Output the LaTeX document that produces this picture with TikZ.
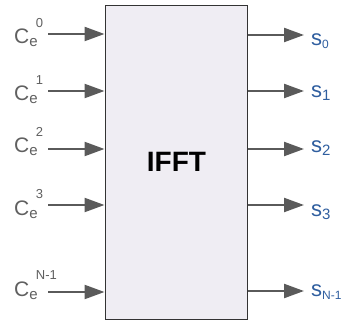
\documentclass[tikz,border=0pt]{standalone}
\usepackage{fontspec}
\setmainfont{Liberation Sans}
\usetikzlibrary{arrows.meta}
\definecolor{arrgray}{HTML}{5A5A5A}
\definecolor{txtgray}{HTML}{606060}
\definecolor{sblue}{HTML}{2F5E9F}
\definecolor{boxfill}{HTML}{EFEDF3}
\newcommand{\CeLab}[1]{{\fontsize{21}{21}\selectfont C}\rlap{\raisebox{-3pt}{\fontsize{15}{15}\selectfont e}}\hspace{6.5pt}\raisebox{16.5pt}{\fontsize{13}{13}\selectfont #1}}
\newcommand{\SLab}[2]{{\fontsize{22}{22}\selectfont s}\raisebox{-3pt}{\fontsize{#1}{#1}\selectfont #2}}
\begin{document}
\begin{tikzpicture}[x=1pt,y=-1pt,
  sig/.style={draw=arrgray,line width=2.3pt,-{Triangle[length=20pt,width=14pt]}},
  inlab/.style={anchor=base west,inner sep=0pt,text=txtgray},
  outlab/.style={anchor=base west,inner sep=0pt,text=sblue},
  blk/.style={draw=black!80,line width=1pt,fill=boxfill}]
\useasboundingbox (0,0) rectangle (345,323);
\node[blk,minimum width=142pt,minimum height=313pt,inner sep=0pt] (box) at (176,162.5) {};
\node[font=\bfseries\fontsize{28}{28}\selectfont,inner sep=0pt] (lbl) at (176.5,162) {IFFT};
% input labels
\node[inlab] (c0) at (14,44) {\CeLab{0}};
\node[inlab] (c1) at (14,101) {\CeLab{1}};
\node[inlab] (c2) at (14,153) {\CeLab{2}};
\node[inlab] (c3) at (14,215) {\CeLab{3}};
\node[inlab] (cn) at (14,296) {\CeLab{N-1}};
% input arrow start coordinates
\coordinate (i0) at (48,34);
\coordinate (i1) at (48,91);
\coordinate (i2) at (48,149);
\coordinate (i3) at (48,205);
\coordinate (in) at (48,292);
\coordinate (e0) at (box.west |- i0);
\coordinate (e1) at (box.west |- i1);
\coordinate (e2) at (box.west |- i2);
\coordinate (e3) at (box.west |- i3);
\coordinate (en) at (box.west |- in);
\foreach \k in {0,1,2,3,n} \draw[sig] (i\k) -- (e\k);
% outputs
\coordinate (o0) at (304,35);
\coordinate (o1) at (304,91);
\coordinate (o2) at (304,149);
\coordinate (o3) at (304,205);
\coordinate (on) at (304,291);
\coordinate (b0) at (box.east |- o0);
\coordinate (b1) at (box.east |- o1);
\coordinate (b2) at (box.east |- o2);
\coordinate (b3) at (box.east |- o3);
\coordinate (bn) at (box.east |- on);
\foreach \k in {0,1,2,3,n} \draw[sig] (b\k) -- (o\k);
\node[outlab] (s0) at (311,46) {\SLab{12}{0}};
\node[outlab] (s1) at (311,98) {\SLab{15}{1}};
\node[outlab] (s2) at (311,153) {\SLab{15}{2}};
\node[outlab] (s3) at (311,216) {\SLab{15}{3}};
\node[outlab] (sn) at (311,296) {\SLab{12}{N-1}};
\end{tikzpicture}
\end{document}
